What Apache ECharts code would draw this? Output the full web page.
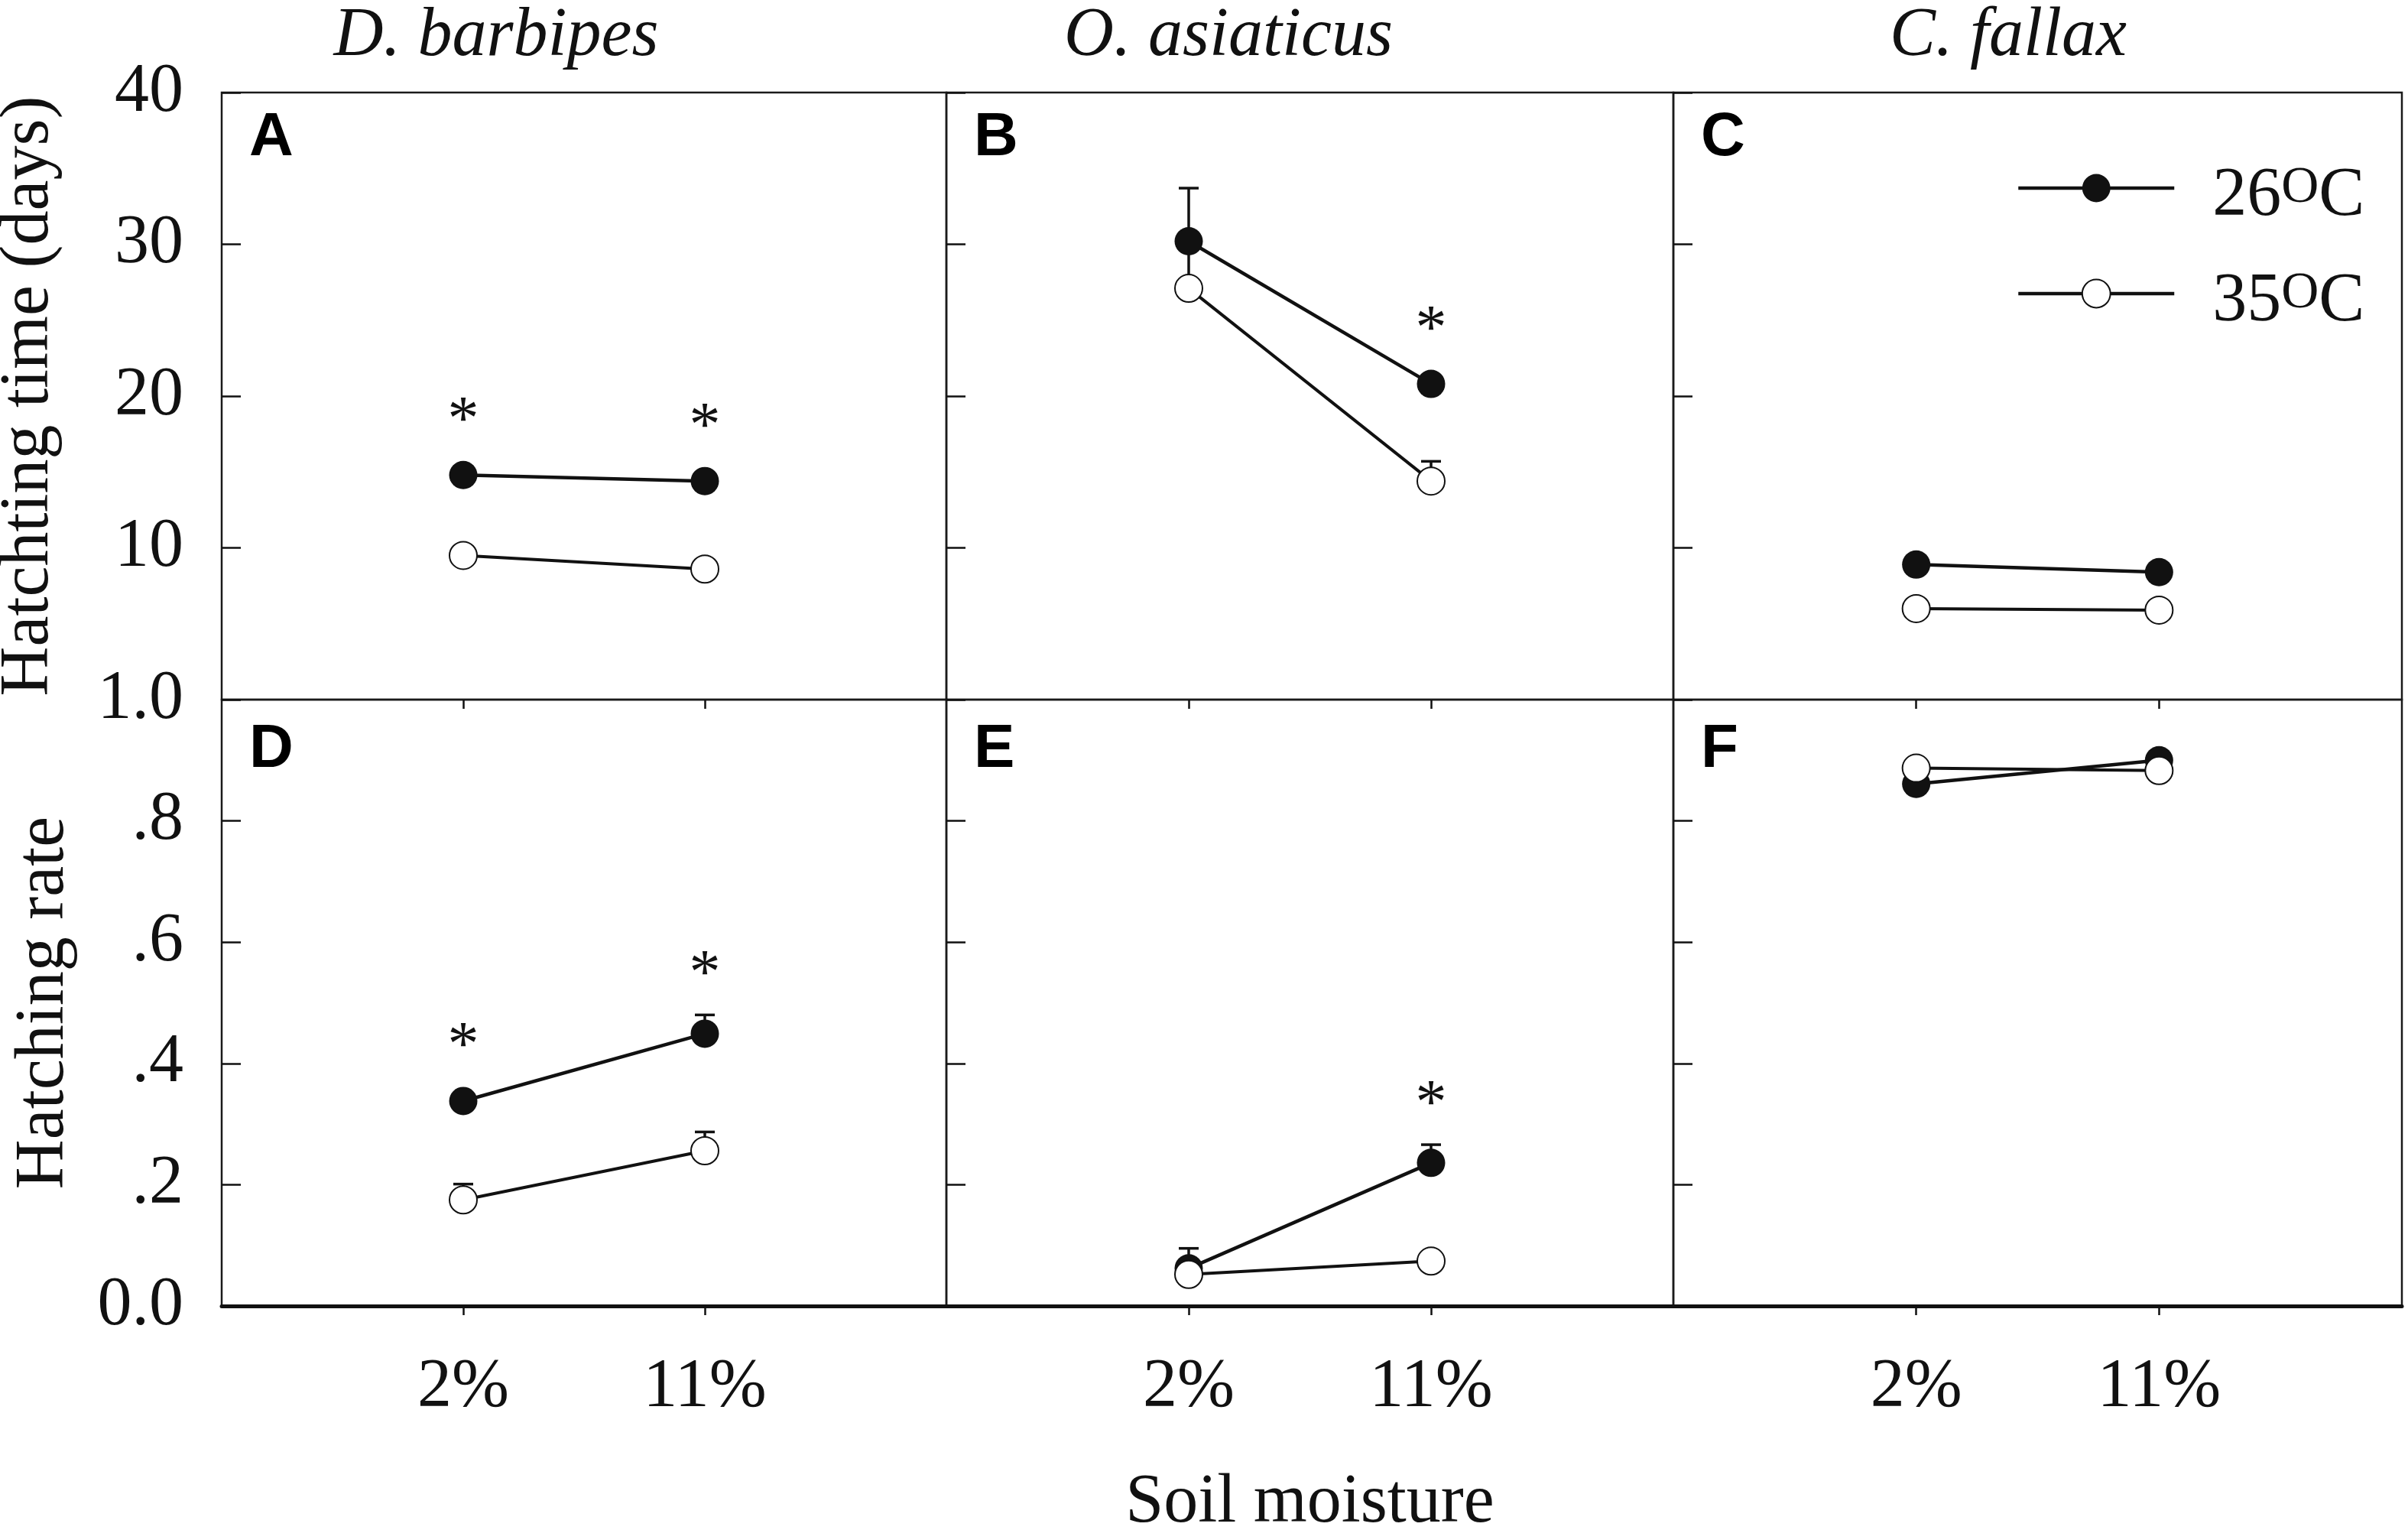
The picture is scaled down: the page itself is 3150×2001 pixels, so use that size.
<!DOCTYPE html>
<html lang="en">
<head>
	<meta charset="UTF-8">
	<title>Hatching time and hatching rate</title>
	<script src="https://cdn.jsdelivr.net/npm/echarts@6/dist/echarts.min.js"></script>
	<style>
		html,body{margin:0;padding:0;background:#fff}
		#pic{width:3150px;height:2001px}
	</style>
</head>
<body>
<div id="pic"></div>
<script>
	"use strict";

	const moisture=["2%","11%"];
	const species=["D. barbipes","O. asiaticus","C. fallax"];
	const letters=["A","B","C","D","E","F"];
	const temps=["26°C","35°C"];

	// hatching time (days): mean and upper error bar, one pair per species
	const time26=[[14.8,14.4],[30.2,20.8],[8.9,8.4]];
	const time26Se=[[0,0],[3.5,0],[0,0]];
	const time35=[[9.5,8.6],[27.1,14.4],[6.0,5.9]];
	const time35Se=[[0,0],[2.6,1.3],[0,0]];
	// hatching rate
	const rate26=[[0.338,0.449],[0.062,0.236],[0.861,0.900]];
	const rate26Se=[[0,0.031],[0.033,0.030],[0,0]];
	const rate35=[[0.175,0.256],[0.052,0.074],[0.887,0.883]];
	const rate35Se=[[0.026,0.031],[0,0],[0,0]];
	// asterisk = temperatures differ
	const timeSig=[[1,1],[0,1],[0,0]];
	const rateSig=[[1,1],[0,1],[0,0]];

	const timeLabels=["","10","20","30","40"];
	const rateLabels=["0.0",".2",".4",".6",".8","1.0"];

	const F="Liberation Serif",K="#111";
	const colX=[290,1238,2189,3142],rowY=[121,915,1708];

	function errBar(params,api)
	{
		let x=api.value(0),m=api.value(1),s=api.value(2);
		let a=api.coord([x,m]),b=api.coord([x,m+s]);
		let st={stroke:K,lineWidth:3.5};
		return {type:"group",children:[
			{type:"line",shape:{x1:a[0],y1:a[1],x2:b[0],y2:b[1]},style:st},
			{type:"line",shape:{x1:b[0]-13,y1:b[1],x2:b[0]+13,y2:b[1]},style:st}
		]};
	}

	function star(params,api)
	{
		let x=api.value(0);
		let c=(v)=>api.coord([x,v])[1];
		let top=Math.min(c(api.value(1))-18,c(api.value(1)+api.value(2)),c(api.value(3))-18,c(api.value(3)+api.value(4)));
		return {type:"text",x:api.coord([x,0])[0],y:top-51,
			style:{text:"*",font:"82px '"+F+"'",fill:K,align:"center",verticalAlign:"middle"}};
	}

	let grid=[],xAxis=[],yAxis=[],series=[],graphic=[];
	for(let p=0; p<6; p++)
	{
		let col=p%3,row=Math.floor(p/3);
		grid.push({left:colX[col],top:rowY[row],width:colX[col+1]-colX[col],height:rowY[row+1]-rowY[row],
			show:true,borderColor:"#1a1a1a",borderWidth:2.5,containLabel:false,outerBoundsMode:"none"});
		xAxis.push({
			gridIndex:p,type:"value",min:0,max:3,position:"bottom",
			axisLine:{show:row===1,onZero:false,lineStyle:{color:K,width:5}},
			axisTick:{show:row===1,customValues:[1,2],length:12,lineStyle:{color:K,width:2.5}},
			axisLabel:{show:row===1,customValues:[1,2],formatter:v=>moisture[v-1],margin:62,
				fontFamily:F,fontSize:90,color:K},
			splitLine:{show:false},
			name:p===4?"Soil moisture":"",nameLocation:"middle",nameGap:213,
			nameTextStyle:{fontFamily:F,fontSize:90,color:K}
		});
		let lab=row===0?timeLabels:rateLabels,step=row===0?10:0.2;
		yAxis.push({
			gridIndex:p,type:"value",min:0,max:row===0?40:1,interval:step,
			axisLine:{show:false,onZero:false},
			axisTick:{inside:true,length:25,lineStyle:{color:K,width:2.5}},
			axisLabel:{show:col===0,margin:50,fontFamily:F,fontSize:90,color:K,
				formatter:v=>lab[Math.round(v/step)]},
			splitLine:{show:false},
			name:col===0?(row===0?"Hatchting time (days)":"Hatching rate"):"",
			nameLocation:"middle",nameGap:row===0?207:187,
			nameTextStyle:{fontFamily:F,fontSize:90,color:K}
		});

		let m26=row===0?time26[col]:rate26[col],s26=row===0?time26Se[col]:rate26Se[col];
		let m35=row===0?time35[col]:rate35[col],s35=row===0?time35Se[col]:rate35Se[col];
		let sig=row===0?timeSig[col]:rateSig[col];

		let bars=[];
		moisture.forEach((m,i)=>
		{
			if(s26[i]>0) bars.push([i+1,m26[i],s26[i]]);
			if(s35[i]>0) bars.push([i+1,m35[i],s35[i]]);
		});
		series.push({type:"custom",xAxisIndex:p,yAxisIndex:p,z:1,renderItem:errBar,data:bars});
		series.push({
			type:"line",name:temps[0],xAxisIndex:p,yAxisIndex:p,z:3,
			data:moisture.map((m,i)=>[i+1,m26[i]]),
			symbol:"circle",symbolSize:37,itemStyle:{color:K},lineStyle:{color:K,width:4.5}
		});
		series.push({
			type:"line",name:temps[1],xAxisIndex:p,yAxisIndex:p,z:3,
			data:moisture.map((m,i)=>[i+1,m35[i]]),
			symbol:"emptyCircle",symbolSize:36,itemStyle:{color:K,borderWidth:3.5},lineStyle:{color:K,width:4}
		});
		let stars=[];
		moisture.forEach((m,i)=>
		{
			if(sig[i]) stars.push([i+1,m26[i],s26[i],m35[i],s35[i]]);
		});
		series.push({type:"custom",xAxisIndex:p,yAxisIndex:p,z:4,renderItem:star,data:stars});

		graphic.push({type:"text",x:colX[col]+36,y:rowY[row]+(row===0?20:26),
			style:{text:letters[p],font:"bold 80px 'Liberation Sans'",fill:"#000",align:"left",verticalAlign:"top"}});
	}

	// inward ticks along the top edge of the lower panels
	for(let p=3; p<6; p++)
	{
		xAxis.push({
			gridIndex:p,type:"value",min:0,max:3,position:"top",
			axisLine:{show:false,onZero:false},
			axisTick:{inside:true,customValues:[1,2],length:12,lineStyle:{color:K,width:2.5}},
			axisLabel:{show:false},splitLine:{show:false}
		});
	}

	const titleX=[649,1607,2627];
	species.forEach((s,i)=>
	{
		graphic.push({type:"text",x:titleX[i],y:48,
			style:{text:s,font:"italic 90px '"+F+"'",fill:K,align:"center",verticalAlign:"middle"}});
	});

	let pic=echarts.init(document.getElementById("pic"));
	pic.setOption({
		animation:false,
		backgroundColor:"#fff",
		grid:grid,
		xAxis:xAxis,
		yAxis:yAxis,
		series:series,
		graphic:{elements:graphic},
		legend:{
			left:2638,top:212,orient:"vertical",padding:0,itemGap:48,
			itemWidth:204,itemHeight:46,selectedMode:false,
			data:temps,
			lineStyle:{width:4.5},
			formatter:n=>"{n|"+n.slice(0,2)+"}{s|O}{n|C}",
			textStyle:{padding:[22,0,0,45],rich:{
				n:{fontFamily:F,fontSize:90,color:K,lineHeight:90},
				s:{fontFamily:F,fontSize:68,color:K,lineHeight:56,verticalAlign:"top"}
			}}
		}
	});
</script>
</body>
</html>
